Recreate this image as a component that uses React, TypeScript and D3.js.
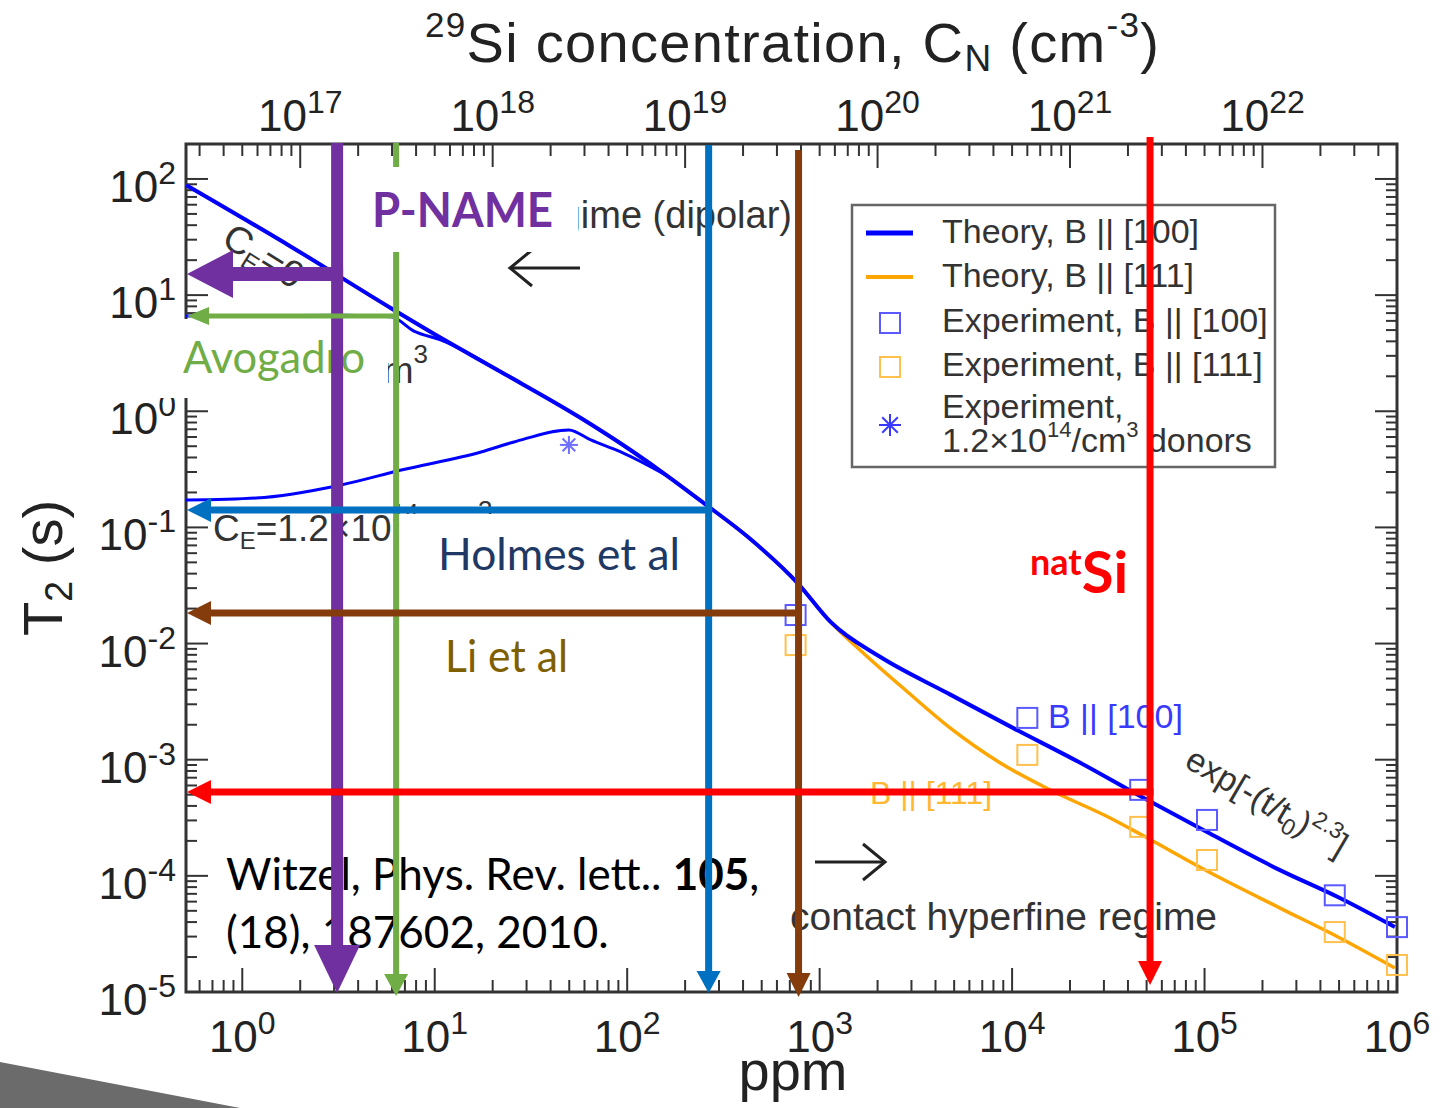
import React from "react";
import * as d3 from "d3";

// ---- data (ppm, T2 in seconds) ----
const SI_PER_PPM = 5e16; // 29Si atoms per cm^3 for 1 ppm

const theoryPpm100 = [0.51, 1.8, 5.9, 10.8, 22.1, 57.4, 104, 162, 250, 423, 768, 1140, 2070, 4610, 10150, 22600, 45200, 103000, 246600, 505000, 975000];
const theoryT2_100 = [88.8, 26.0, 7.75, 4.27, 2.18, 0.875, 0.464, 0.277, 0.162, 0.083, 0.0332, 0.01535, 0.00766, 0.00375, 0.00187, 9.4e-4, 4.97e-4, 2.38e-4, 1.12e-4, 6.44e-5, 3.62e-5];

const theoryPpm111 = [0.51, 1.8, 5.9, 10.8, 22.1, 57.4, 104, 162, 250, 423, 768, 1140, 1730, 2790, 4780, 8690, 15800, 32300, 46300, 103000, 246600, 505000, 975000];
const theoryT2_111 = [88.8, 26.0, 7.75, 4.27, 2.18, 0.875, 0.464, 0.277, 0.162, 0.083, 0.0332, 0.01535, 0.00798, 0.00398, 0.00187, 9.37e-4, 5.48e-4, 3.15e-4, 2.29e-4, 1.10e-4, 5.28e-5, 2.92e-5, 1.61e-5];

const ce13Ppm = [0.51, 3.38, 5.93, 7.8, 10.8, 22.1];
const ce13T2 = [6.6, 6.7, 6.5, 4.9, 4.1, 2.18];

const ce14Ppm = [0.51, 1.18, 3.26, 6.7, 17.4, 25.8, 49.8, 64.7, 92.6, 162];
const ce14T2 = [0.172, 0.179, 0.232, 0.312, 0.446, 0.544, 0.69, 0.566, 0.446, 0.277];

const expPpm = [750, 12000, 46300, 103000, 475000, 1000000];
const exp100T2 = [0.0176, 0.00229, 5.5e-4, 3.03e-4, 6.8e-5, 3.62e-5];
const exp111T2 = [0.0097, 0.0011, 2.64e-4, 1.37e-4, 3.28e-5, 1.71e-5];

const donorPpm = [49.8];
const donorT2 = [0.513];

const bottomExps = [0, 1, 2, 3, 4, 5, 6];
const topExps = [17, 18, 19, 20, 21, 22];
const leftExps = [-5, -4, -3, -2, -1, 0, 1, 2];

// annotation markers
const markNames = ["P-NAME", "Avogadro", "Holmes et al", "Li et al", "natSi"];
const markPpm = [3.11, 6.3, 265, 777, 52100];
const markT2 = [15.2, 6.6, 0.141, 0.0183, 5.27e-4];

// ---- layout / styles ----
const W = 1441, H = 1108;
const plot = { left: 186, right: 1397, top: 144, bottom: 992 };

const markStyle = [
  { color: "#7030A0", top: 143, tipDy: 1, vw: 12, vHead: 48, vHw: 46, hw: 14, hHead: 46, hHw: 48 },
  { color: "#70AD47", top: 143, tipDy: 4, vw: 6, vHead: 22, vHw: 24, hw: 5, hHead: 22, hHw: 18 },
  { color: "#0070C0", top: 145, tipDy: 1, vw: 7, vHead: 22, vHw: 24, hw: 7, hHead: 24, hHw: 24 },
  { color: "#843C0C", top: 150, tipDy: 5, vw: 7, vHead: 24, vHw: 24, hw: 7, hHead: 24, hHw: 24 },
  { color: "#FF0000", top: 137, tipDy: -7, vw: 7, vHead: 24, vHw: 24, hw: 7, hHead: 24, hHw: 24 },
];

const x = d3.scaleLog().domain([0.51, 1e6]).range([plot.left, plot.right]);
const y = d3.scaleLog().domain([1e-5, 200]).range([plot.bottom, plot.top]);
const xTop = d3.scaleLog().domain([0.51 * SI_PER_PPM, 1e6 * SI_PER_PPM]).range([plot.left, plot.right]);

const zip = (a: number[], b: number[]) => a.map((v, i) => [v, b[i]] as [number, number]);
const line = d3.line<[number, number]>().x(d => x(d[0])).y(d => y(d[1])).curve(d3.curveMonotoneX);

function logTicks(scale: d3.ScaleLogarithmic<number, number>) {
  const [a, b] = scale.domain();
  const out: { v: number; major: boolean }[] = [];
  for (let k = Math.floor(Math.log10(a)); k <= Math.ceil(Math.log10(b)); k++) {
    for (let m = 1; m <= 9; m++) {
      const v = m * Math.pow(10, k);
      if (v >= a * 0.999 && v <= b * 1.001) out.push({ v, major: m === 1 });
    }
  }
  return out;
}

const AXIS_FONT = "'Liberation Sans Narrow', 'Liberation Sans', Arial, sans-serif";
const PLOT_FONT = "'Liberation Sans', Arial, sans-serif";
const NOTE_FONT = "Lato, 'Open Sans', sans-serif";

const Pow = ({ e, ...rest }: any) => (
  <text fontFamily={AXIS_FONT} fontSize={44} fill="#222" {...rest}>
    <tspan>10</tspan>
    <tspan fontSize={32} dy={-18}>{e}</tspan>
  </text>
);

const Square = ({ cx, cy, color }: any) => (
  <rect x={cx - 10} y={cy - 10} width={20} height={20} fill="none" stroke={color} strokeWidth={2} />
);

const Star = ({ cx, cy, color, r = 9 }: any) => (
  <g stroke={color} strokeWidth={2}>
    {[0, 45, 90, 135].map(a => {
      const rad = (a * Math.PI) / 180;
      return <line key={a} x1={cx - r * Math.cos(rad)} y1={cy - r * Math.sin(rad)} x2={cx + r * Math.cos(rad)} y2={cy + r * Math.sin(rad)} />;
    })}
  </g>
);

const PlainArrow = ({ x1, x2, yy }: any) => {
  const dir = x2 > x1 ? 1 : -1;
  return (
    <g stroke="#222" strokeWidth={3} fill="none">
      <line x1={x1} y1={yy} x2={x2} y2={yy} />
      <polyline points={`${x2 - dir * 22},${yy - 18} ${x2},${yy} ${x2 - dir * 22},${yy + 18}`} />
    </g>
  );
};

export default function App() {
  const xt = logTicks(x);
  const yt = logTicks(y);
  const tt = logTicks(xTop);

  return (
    <svg width={W} height={H} style={{ position: "absolute", left: 0, top: 0, background: "#fff" }}>
      <rect width={W} height={H} fill="#fff" />

      {/* title */}
      <text x={425} y={62} fontFamily={PLOT_FONT} fontSize={56} letterSpacing={1.3} fill="#222">
        <tspan fontSize={35} dy={-25}>29</tspan>
        <tspan dy={25}>Si concentration, C</tspan>
        <tspan fontSize={37} dy={9}>N</tspan>
        <tspan dy={-9}> (cm</tspan>
        <tspan fontSize={35} dy={-25}>-3</tspan>
        <tspan dy={25}>)</tspan>
      </text>

      {/* axis labels */}
      <text transform={`translate(62,568) rotate(-90)`} textAnchor="middle" fontFamily={PLOT_FONT} fontSize={56} fill="#222">
        <tspan>T</tspan>
        <tspan fontSize={38} dy={10}>2</tspan>
        <tspan dy={-10}> (s)</tspan>
      </text>
      <text x={793} y={1090} textAnchor="middle" fontFamily={PLOT_FONT} fontSize={56} fill="#222">ppm</text>

      {/* ticks */}
      <g stroke="#333" strokeWidth={2}>
        {xt.map((t, i) => (
          <line key={"b" + i} x1={x(t.v)} x2={x(t.v)} y1={plot.bottom} y2={plot.bottom - (t.major ? 24 : 12)} />
        ))}
        {tt.map((t, i) => (
          <line key={"t" + i} x1={xTop(t.v)} x2={xTop(t.v)} y1={plot.top} y2={plot.top + (t.major ? 24 : 12)} />
        ))}
        {yt.map((t, i) => (
          <g key={"y" + i}>
            <line x1={plot.left} x2={plot.left + (t.major ? 22 : 11)} y1={y(t.v)} y2={y(t.v)} />
            <line x1={plot.right} x2={plot.right - (t.major ? 22 : 11)} y1={y(t.v)} y2={y(t.v)} />
          </g>
        ))}
      </g>
      <rect x={plot.left} y={plot.top} width={plot.right - plot.left} height={plot.bottom - plot.top} fill="none" stroke="#333" strokeWidth={3} />

      {/* tick labels */}
      {bottomExps.map(e => (
        <Pow key={"bl" + e} e={e} x={x(Math.pow(10, e))} y={1052} textAnchor="middle" />
      ))}
      {topExps.map(e => (
        <Pow key={"tl" + e} e={e} x={xTop(Math.pow(10, e))} y={131} textAnchor="middle" />
      ))}
      {leftExps.map(e => (
        <Pow key={"ll" + e} e={e} x={176} y={y(Math.pow(10, e)) + 23} textAnchor="end" />
      ))}

      {/* curves */}
      <g fill="none" strokeLinejoin="round">
        <path d={line(zip(theoryPpm111, theoryT2_111)) || ""} stroke="#FFA500" strokeWidth={3.5} />
        <path d={line(zip(ce13Ppm, ce13T2)) || ""} stroke="#0000FF" strokeWidth={3} />
        <path d={line(zip(ce14Ppm, ce14T2)) || ""} stroke="#0000FF" strokeWidth={3} />
        <path d={line(zip(theoryPpm100, theoryT2_100)) || ""} stroke="#0000FF" strokeWidth={4} />
      </g>

      {expPpm.map((p, i) => (
        <g key={"e" + i}>
          <Square cx={x(p)} cy={y(exp100T2[i])} color="#5A5AFF" />
          <Square cx={x(p)} cy={y(exp111T2[i])} color="#FFC04D" />
        </g>
      ))}
      {donorPpm.map((p, i) => (
        <Star key={"d" + i} cx={x(p)} cy={y(donorT2[i])} color="#7070FF" />
      ))}

      {/* plot annotations */}
      <text transform="translate(220,244) rotate(32)" fontFamily={PLOT_FONT} fontSize={38} fill="#333">
        <tspan>C</tspan><tspan fontSize={24} dy={8}>E</tspan><tspan dy={-8}>=0</tspan>
      </text>
      <text x={213} y={541} fontFamily={PLOT_FONT} fontSize={37} fill="#333">
        <tspan>C</tspan><tspan fontSize={24} dy={8}>E</tspan><tspan dy={-8}>=1.2×10</tspan>
        <tspan fontSize={24} dy={-20}>14</tspan><tspan dy={20}>/cm</tspan>
        <tspan fontSize={26} dy={-22}>3</tspan>
      </text>
      <text x={428} y={383} textAnchor="end" fontFamily={PLOT_FONT} fontSize={33} fill="#333">
        <tspan>C</tspan><tspan fontSize={22} dy={7}>E</tspan><tspan dy={-7}>=1.2×10</tspan>
        <tspan fontSize={22} dy={-18}>13</tspan><tspan dy={18} fontSize={37}>/cm</tspan>
        <tspan fontSize={26} dy={-20}>3</tspan>
      </text>
      <text x={792} y={228} textAnchor="end" fontFamily={PLOT_FONT} fontSize={38} fill="#333">dipolar regime (dipolar)</text>
      <PlainArrow x1={580} x2={510} yy={268} />
      <PlainArrow x1={815} x2={885} yy={862} />
      <text x={790} y={930} fontFamily={PLOT_FONT} fontSize={39} fill="#333">contact hyperfine regime</text>
      <text x={1048} y={728} fontFamily={PLOT_FONT} fontSize={34} fill="#3A3AFF">B || [100]</text>
      <text x={870} y={804} fontFamily={PLOT_FONT} fontSize={32} fill="#FFB833">B || [111]</text>
      <text transform="translate(1183,766) rotate(30.5)" fontFamily={PLOT_FONT} fontSize={34} fill="#333">
        <tspan>exp[-(t/t</tspan><tspan fontSize={23} dy={7}>0</tspan><tspan dy={-7}>)</tspan>
        <tspan fontSize={23} dy={-15}>2.3</tspan><tspan dy={15}>]</tspan>
      </text>

      {/* legend */}
      <g fontFamily={PLOT_FONT} fontSize={34} fill="#333">
        <rect x={852} y={205} width={423} height={262} fill="#fff" stroke="#666" strokeWidth={2.5} />
        <line x1={866} x2={913} y1={233} y2={233} stroke="#0000FF" strokeWidth={5} />
        <text x={942} y={243}>Theory, B || [100]</text>
        <line x1={866} x2={913} y1={277} y2={277} stroke="#FFA500" strokeWidth={4} />
        <text x={942} y={287}>Theory, B || [111]</text>
        <Square cx={890} cy={323} color="#5A5AFF" />
        <text x={942} y={332}>Experiment, B || [100]</text>
        <Square cx={890} cy={367} color="#FFC04D" />
        <text x={942} y={376}>Experiment, B || [111]</text>
        <Star cx={890} cy={425} color="#3A3AFF" r={11} />
        <text x={942} y={418}>Experiment,</text>
        <text x={942} y={452}>
          <tspan>1.2×10</tspan><tspan fontSize={22} dy={-15}>14</tspan><tspan dy={15}>/cm</tspan>
          <tspan fontSize={22} dy={-15}>3</tspan><tspan dy={15}> donors</tspan>
        </text>
      </g>

      {/* white label boxes */}
      <rect x={140} y={319} width={248} height={79} fill="#fff" />
      <rect x={398} y={514} width={305} height={86} fill="#fff" />

      {/* overlay labels */}
      <text x={183} y={373} fontFamily={NOTE_FONT} fontSize={44} fill="#70AD47" textLength={182} lengthAdjust="spacingAndGlyphs">Avogadro</text>
      <text x={438} y={570} fontFamily={NOTE_FONT} fontSize={44} fill="#203864" textLength={242} lengthAdjust="spacingAndGlyphs">Holmes et al</text>
      <text x={445} y={672} fontFamily={NOTE_FONT} fontSize={44} fill="#7F6000" textLength={123} lengthAdjust="spacingAndGlyphs">Li et al</text>
      <text x={1030} y={593} fontFamily={NOTE_FONT} fontWeight="bold" fill="#FF0000">
        <tspan fontSize={36} dy={-18}>nat</tspan>
        <tspan fontSize={58} dy={18}>Si</tspan>
      </text>
      <text x={226} y={890} fontFamily={NOTE_FONT} fontSize={44} fill="#000">
        <tspan>Witzel, Phys. Rev. lett.. </tspan><tspan fontWeight="bold">105</tspan><tspan>,</tspan>
      </text>
      <text x={226} y={948} fontFamily={NOTE_FONT} fontSize={44} fill="#000">(18), 187602, 2010.</text>

      {/* annotation arrows */}
      {markNames.map((n, i) => {
        const s = markStyle[i];
        const mx = x(markPpm[i]);
        const my = y(markT2[i]);
        const tip = plot.bottom + s.tipDy;
        const hx = plot.left + 1;
        return (
          <g key={n} fill={s.color}>
            <line x1={mx} x2={mx} y1={s.top} y2={tip - s.vHead + 2} stroke={s.color} strokeWidth={s.vw} />
            <polygon points={`${mx - s.vHw / 2},${tip - s.vHead} ${mx + s.vHw / 2},${tip - s.vHead} ${mx},${tip}`} />
            <line x1={mx + s.vw / 2} x2={hx + s.hHead - 2} y1={my} y2={my} stroke={s.color} strokeWidth={s.hw} />
            <polygon points={`${hx + s.hHead},${my - s.hHw / 2} ${hx + s.hHead},${my + s.hHw / 2} ${hx},${my}`} />
          </g>
        );
      })}

      {/* P-NAME label box over the green line */}
      <rect x={351} y={167} width={227} height={85} fill="#fff" />
      <text x={372} y={227} fontFamily={NOTE_FONT} fontWeight="bold" fontSize={48} fill="#7030A0" textLength={181} lengthAdjust="spacingAndGlyphs">P-NAME</text>

      {/* slide corner */}
      <polygon points={`0,1062 240,1108 0,1108`} fill="#6B6B6B" />
    </svg>
  );
}
